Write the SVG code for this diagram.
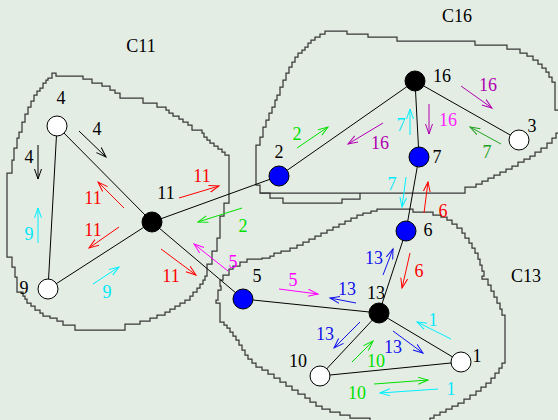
<svg xmlns="http://www.w3.org/2000/svg" width="558" height="420" viewBox="0 0 558 420">
<style>
.bg{fill:#e4ede4}
.blob{fill:none;stroke:#383838;stroke-width:1.25}
.edge{stroke:#000;stroke-width:1;fill:none}
.node{stroke:#000;stroke-width:1}
.t{font-family:"Liberation Serif","Times New Roman",serif;font-size:18px;text-anchor:middle}
.m{stroke-width:1;fill:none}
</style>
<defs>
<marker id="aK" markerUnits="userSpaceOnUse" markerWidth="12" markerHeight="10" refX="10" refY="4" orient="auto"><path d="M0,0.5 L10,4 L0,7.5" fill="none" stroke="#000"/></marker>
<marker id="aR" markerUnits="userSpaceOnUse" markerWidth="12" markerHeight="10" refX="10" refY="4" orient="auto"><path d="M0,0.5 L10,4 L0,7.5" fill="none" stroke="#ff0000"/></marker>
<marker id="aC" markerUnits="userSpaceOnUse" markerWidth="12" markerHeight="10" refX="10" refY="4" orient="auto"><path d="M0,0.5 L10,4 L0,7.5" fill="none" stroke="#00f0ff"/></marker>
<marker id="aG" markerUnits="userSpaceOnUse" markerWidth="12" markerHeight="10" refX="10" refY="4" orient="auto"><path d="M0,0.5 L10,4 L0,7.5" fill="none" stroke="#00e000"/></marker>
<marker id="aD" markerUnits="userSpaceOnUse" markerWidth="12" markerHeight="10" refX="10" refY="4" orient="auto"><path d="M0,0.5 L10,4 L0,7.5" fill="none" stroke="#22a022"/></marker>
<marker id="aM" markerUnits="userSpaceOnUse" markerWidth="12" markerHeight="10" refX="10" refY="4" orient="auto"><path d="M0,0.5 L10,4 L0,7.5" fill="none" stroke="#ff00ff"/></marker>
<marker id="aP" markerUnits="userSpaceOnUse" markerWidth="12" markerHeight="10" refX="10" refY="4" orient="auto"><path d="M0,0.5 L10,4 L0,7.5" fill="none" stroke="#b000b0"/></marker>
<marker id="aB" markerUnits="userSpaceOnUse" markerWidth="12" markerHeight="10" refX="10" refY="4" orient="auto"><path d="M0,0.5 L10,4 L0,7.5" fill="none" stroke="#1010ee"/></marker>
</defs>
<rect class="bg" x="0" y="0" width="558" height="420"/>

<g id="clusters">
<g id="C11">
<path class="blob" d="M52,76 V73 H56 V76 H83 V79 H92 V83 H102 V86 H110 V90 H115 V93 H120 V98 H143 V103 H157 V107 H166 V110 H169 V113 H173 V116 H179 V119 H183 V122 H188 V125 H192 V130 H202 V133 H204 V137 H207 V140 H210 V143 H214 V146 H218 V149 H222 V152 H225 V155 H229 V203 H224 V216 H220 V238 H217 V251 H212 V264 H207 V276 H205 V280 H203 V284 H200 V288 H197 V292 H193 V296 H190 V300 H185 V303 H180 V306 H175 V309 H170 V312 H165 V315 H157 V318 H150 V321 H140 V324 H125 V330 H75 V325 H63 V321 H57 V318 H50 V316 H43 V313 H40 V310 H35 V306 H31 V303 H27 V299 H25 V296 H23 V292 H17 V277 H15 V267 H12 V257 H7 V173 H12 V160 H14 V148 H17 V138 H19 V132 H22 V122 H25 V114 H28 V107 H31 V101 H34 V95 H37 V91 H40 V88 H43 V83 H46 V80 H48 V78 H52 Z"/>
<text class="t" x="141" y="52">C11</text>
</g>
<g id="C16">
<path class="blob" d="M256,145 H260 V137 H263 V127 H266 V120 H269 V113 H272 V107 H275 V100 H277 V95 H280 V87 H283 V80 H286 V73 H289 V67 H292 V62 H295 V57 H298 V53 H302 V50 H305 V47 H308 V43 H311 V40 H315 V37 H320 V34 H325 V31 H347 V34 H368 V37 H397 V41 H475 V45 H507 V49 H520 V53 H527 V56 H533 V60 H538 V64 H542 V68 H546 V72 H549 V77 H552 V82 H555 V110 H560 V133 H556 V138 H552 V143 H547 V148 H541 V152 H535 V156 H530 V159 H524 V162 H518 V166 H512 V169 H506 V172 H500 V175 H494 V178 H488 V181 H482 V184 H476 V187 H465 V193 H260 V185 H256 Z"/>
<path class="blob" d="M260,193 H270 V198 H283 V203 H342 V199 H360 V193"/>
<text class="t" x="457" y="22">C16</text>
</g>
<g id="C13">
<path class="blob" d="M229,272 V269 H233 V266 H240 V262 H247 V259 H262 V258 H270 V256 H274 V253 H281 V251 H290 V248 H297 V245 H303 V242 H309 V239 H315 V236 H321 V233 H327 V230 H333 V227 H339 V224 H345 V221 H351 V218 H357 V215 H363 V213 H371 V211 H377 V209 H413 V212 H433 V215 H441 V217 H447 V220 H452 V224 H457 V228 H462 V233 H465 V238 H469 V243 H472 V248 H475 V253 H478 V259 H480 V265 H482 V271 H484 V276 H482 V279 H488 V285 H491 V291 H494 V297 H497 V303 H500 V309 H502 V315 H505 V363 H502 V368 H499 V373 H495 V378 H491 V383 H486 V387 H481 V391 H476 V395 H470 V399 H464 V403 H458 V406 H452 V409 H446 V412 H440 V415 H434 V418 H430 V424 H370 V418 H350 V415 H340 V412 H330 V409 H322 V406 H316 V402 H310 V398 H305 V394 H298 V390 H292 V386 H286 V382 H280 V378 H274 V374 H268 V370 H262 V367 H256 V363 H252 V359 H248 V355 H245 V350 H242 V345 H239 V340 H236 V336 H233 V332 H230 V328 H227 V325 H224 V322 H220 V303 H216 V300 H218 V290 H221 V286 H220 V280 H223 V275 H229 Z"/>
<text class="t" x="526" y="282">C13</text>
</g>
</g>

<g id="connectors">
<line class="edge" x1="57" y1="126" x2="152" y2="222"/>
<line class="edge" x1="57" y1="126" x2="48" y2="289"/>
<line class="edge" x1="48" y1="289" x2="152" y2="222"/>
<line class="edge" x1="152" y1="222" x2="279" y2="176"/>
<line class="edge" x1="152" y1="222" x2="243" y2="299"/>
<line class="edge" x1="279" y1="176" x2="415" y2="81"/>
<line class="edge" x1="415" y1="81" x2="419" y2="157"/>
<line class="edge" x1="415" y1="81" x2="519" y2="140"/>
<line class="edge" x1="419" y1="157" x2="406" y2="231"/>
<line class="edge" x1="406" y1="231" x2="379" y2="313"/>
<line class="edge" x1="243" y1="299" x2="379" y2="313"/>
<line class="edge" x1="379" y1="313" x2="320" y2="376"/>
<line class="edge" x1="379" y1="313" x2="461" y2="362"/>
<line class="edge" x1="320" y1="376" x2="461" y2="362"/>
</g>

<g id="messages">
<line class="m" stroke="#000" marker-end="url(#aK)" x1="79" y1="131" x2="106" y2="157"/>
<text class="t" x="97" y="135" fill="#000">4</text>
<line class="m" stroke="#000" marker-end="url(#aK)" x1="38" y1="145" x2="38" y2="179"/>
<text class="t" x="29" y="163" fill="#000">4</text>
<line class="m" stroke="#00f0ff" marker-end="url(#aC)" x1="38" y1="243" x2="38" y2="208"/>
<text class="t" x="29" y="240" fill="#00e8f8">9</text>
<line class="m" stroke="#ff0000" marker-end="url(#aR)" x1="124" y1="208" x2="98" y2="182"/>
<text class="t" x="93" y="204" fill="#ff0000">11</text>
<line class="m" stroke="#ff0000" marker-end="url(#aR)" x1="179" y1="198" x2="219" y2="186"/>
<text class="t" x="202" y="182" fill="#ff0000">11</text>
<line class="m" stroke="#ff0000" marker-end="url(#aR)" x1="119" y1="227" x2="89" y2="248"/>
<text class="t" x="93" y="236" fill="#ff0000">11</text>
<line class="m" stroke="#ff0000" marker-end="url(#aR)" x1="161" y1="249" x2="196" y2="275"/>
<text class="t" x="171" y="282" fill="#ff0000">11</text>
<line class="m" stroke="#00f0ff" marker-end="url(#aC)" x1="93" y1="284" x2="119" y2="267"/>
<text class="t" x="107" y="298" fill="#00e8f8">9</text>
<line class="m" stroke="#00e000" marker-end="url(#aG)" x1="242" y1="208" x2="198" y2="222"/>
<text class="t" x="243" y="232" fill="#00e000">2</text>
<line class="m" stroke="#ff00ff" marker-end="url(#aM)" x1="228" y1="271" x2="194" y2="244"/>
<text class="t" x="233" y="268" fill="#ff00ff">5</text>
<line class="m" stroke="#00e000" marker-end="url(#aG)" x1="297" y1="148" x2="328" y2="127"/>
<text class="t" x="297" y="140" fill="#00e000">2</text>
<line class="m" stroke="#b000b0" marker-end="url(#aP)" x1="383" y1="123" x2="348" y2="144"/>
<text class="t" x="380" y="149" fill="#b000b0">16</text>
<line class="m" stroke="#00f0ff" marker-end="url(#aC)" x1="410" y1="135" x2="410" y2="109"/>
<text class="t" x="401" y="131" fill="#00e8f8">7</text>
<line class="m" stroke="#b000b0" marker-end="url(#aP)" x1="429" y1="104" x2="429" y2="134"/>
<text class="t" x="448" y="126" fill="#ff20ff">16</text>
<line class="m" stroke="#b000b0" marker-end="url(#aP)" x1="461" y1="86" x2="492" y2="108"/>
<text class="t" x="488" y="91" fill="#b000b0">16</text>
<line class="m" stroke="#22a022" marker-end="url(#aD)" x1="501" y1="144" x2="470" y2="127"/>
<text class="t" x="487" y="158" fill="#22a022">7</text>
<line class="m" stroke="#00f0ff" marker-end="url(#aC)" x1="406" y1="177" x2="402" y2="207"/>
<text class="t" x="392" y="190" fill="#00e8f8">7</text>
<line class="m" stroke="#ff0000" marker-end="url(#aR)" x1="424" y1="213" x2="428" y2="182"/>
<text class="t" x="443" y="217" fill="#ff0000">6</text>
<line class="m" stroke="#ff0000" marker-end="url(#aR)" x1="410" y1="253" x2="402" y2="288"/>
<text class="t" x="419" y="277" fill="#ff0000">6</text>
<line class="m" stroke="#1010ee" marker-end="url(#aB)" x1="383" y1="275" x2="393" y2="249"/>
<text class="t" x="374" y="264" fill="#1010ee">13</text>
<line class="m" stroke="#ff00ff" marker-end="url(#aM)" x1="279" y1="289" x2="318" y2="294"/>
<text class="t" x="293" y="286" fill="#ff00ff">5</text>
<line class="m" stroke="#1010ee" marker-end="url(#aB)" x1="356" y1="303" x2="330" y2="298"/>
<text class="t" x="347" y="295" fill="#1010ee">13</text>
<line class="m" stroke="#1010ee" marker-end="url(#aB)" x1="360" y1="322" x2="334" y2="348"/>
<text class="t" x="325" y="340" fill="#1010ee">13</text>
<line class="m" stroke="#00e000" marker-end="url(#aG)" x1="352" y1="362" x2="373" y2="341"/>
<text class="t" x="376" y="367" fill="#00e000">10</text>
<line class="m" stroke="#1010ee" marker-end="url(#aB)" x1="393" y1="331" x2="423" y2="353"/>
<text class="t" x="393" y="353" fill="#1010ee">13</text>
<line class="m" stroke="#00f0ff" marker-end="url(#aC)" x1="451" y1="339" x2="417" y2="322"/>
<text class="t" x="433" y="326" fill="#00e8f8">1</text>
<line class="m" stroke="#00e000" marker-end="url(#aG)" x1="374" y1="384" x2="428" y2="380"/>
<text class="t" x="357" y="399" fill="#00e000">10</text>
<line class="m" stroke="#00f0ff" marker-end="url(#aC)" x1="438" y1="389" x2="380" y2="393"/>
<text class="t" x="451" y="395" fill="#00e8f8">1</text>
</g>

<g id="n4"><circle class="node" cx="57" cy="126" r="10" fill="#fff"/><text class="t" x="61" y="104">4</text></g>
<g id="n9"><circle class="node" cx="48" cy="289" r="10" fill="#fff"/><text class="t" x="24" y="294">9</text></g>
<g id="n11"><circle class="node" cx="152" cy="222" r="10" fill="#000"/><text class="t" x="166" y="199">11</text></g>
<g id="n2"><circle class="node" cx="279" cy="176" r="10" fill="#0000ff"/><text class="t" x="279" y="158">2</text></g>
<g id="n16"><circle class="node" cx="415" cy="81" r="10" fill="#000"/><text class="t" x="442" y="82">16</text></g>
<g id="n7"><circle class="node" cx="419" cy="157" r="10" fill="#0000ff"/><text class="t" x="437" y="163">7</text></g>
<g id="n3"><circle class="node" cx="519" cy="140" r="10" fill="#fff"/><text class="t" x="532" y="132">3</text></g>
<g id="n6"><circle class="node" cx="406" cy="231" r="10" fill="#0000ff"/><text class="t" x="428" y="236">6</text></g>
<g id="n5"><circle class="node" cx="243" cy="299" r="10" fill="#0000ff"/><text class="t" x="257" y="282">5</text></g>
<g id="n13"><circle class="node" cx="379" cy="313" r="10" fill="#000"/><text class="t" x="376" y="299">13</text></g>
<g id="n10"><circle class="node" cx="320" cy="376" r="10" fill="#fff"/><text class="t" x="298" y="367">10</text></g>
<g id="n1"><circle class="node" cx="461" cy="362" r="10" fill="#fff"/><text class="t" x="477" y="362">1</text></g>
</svg>
